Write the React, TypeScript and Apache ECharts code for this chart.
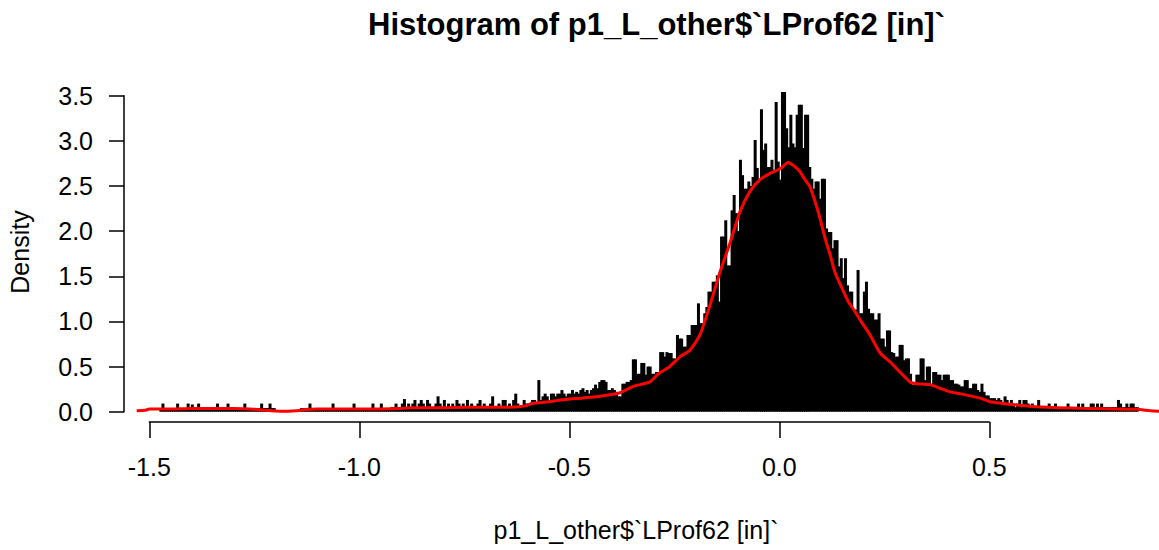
import React, { useEffect, useRef } from "react";
import * as echarts from "echarts";

// ---- data ----
const titleText = "Histogram of p1_L_other$`LProf62 [in]`";
const xLabel = "p1_L_other$`LProf62 [in]`";
const yLabel = "Density";

// histogram bins: start and width (in data units)
const binStart = -1.475;
const binWidth = 0.005;

// density of each bin (466 bins, -1.475 .. 0.855)
const binDensity: number[] = [
  0.04, 0.09, 0.04, 0.04, 0.04, 0.04, 0.04, 0.04, 0.09, 0.04,
  0.04, 0.04, 0.04, 0.09, 0.04, 0.08, 0.04, 0.04, 0.09, 0.04,
  0.04, 0.04, 0.04, 0.04, 0.04, 0.04, 0.04, 0.09, 0.04, 0.04,
  0.04, 0.04, 0.09, 0.04, 0.04, 0.04, 0.04, 0.04, 0.04, 0.04,
  0.09, 0.04, 0.04, 0.04, 0.04, 0.04, 0.04, 0.04, 0.09, 0.04,
  0.04, 0.04, 0.09, 0.04, 0.04, 0, 0, 0, 0, 0,
  0, 0, 0, 0, 0, 0, 0, 0.04, 0.04, 0.04,
  0.04, 0.09, 0.04, 0.04, 0.04, 0.04, 0.04, 0.04, 0.04, 0.04,
  0.04, 0.04, 0.09, 0.04, 0.04, 0.04, 0.04, 0.04, 0.04, 0.04,
  0.04, 0.04, 0.09, 0.04, 0.04, 0.04, 0.04, 0.04, 0.04, 0.04,
  0.04, 0.09, 0.04, 0.04, 0.04, 0.09, 0.04, 0.04, 0.04, 0.04,
  0.05, 0.05, 0.09, 0.05, 0.05, 0.09, 0.14, 0.05, 0.09, 0.05,
  0.09, 0.13, 0.05, 0.09, 0.13, 0.09, 0.05, 0.13, 0.09, 0.05,
  0.05, 0.09, 0.17, 0.09, 0.05, 0.13, 0.05, 0.09, 0.05, 0.09,
  0.05, 0.13, 0.09, 0.05, 0.09, 0.05, 0.13, 0.05, 0.09, 0.05,
  0.05, 0.09, 0.13, 0.05, 0.09, 0.05, 0.05, 0.09, 0.17, 0.05,
  0.05, 0.09, 0.05, 0.13, 0.13, 0.05, 0.09, 0.05, 0.13, 0.2,
  0.09, 0.05, 0.05, 0.13, 0.09, 0.09, 0.09, 0.13, 0.13, 0.09,
  0.35, 0.13, 0.17, 0.2, 0.17, 0.13, 0.2, 0.2, 0.17, 0.2,
  0.2, 0.24, 0.2, 0.17, 0.2, 0.2, 0.24, 0.2, 0.22, 0.2,
  0.24, 0.26, 0.22, 0.24, 0.2, 0.24, 0.26, 0.3, 0.26, 0.33,
  0.35, 0.35, 0.33, 0.24, 0.24, 0.26, 0.24, 0.22, 0.17, 0.17,
  0.31, 0.31, 0.33, 0.33, 0.35, 0.58, 0.58, 0.42, 0.42, 0.54,
  0.54, 0.41, 0.5, 0.5, 0.42, 0.42, 0.44, 0.44, 0.66, 0.66,
  0.61, 0.66, 0.65, 0.65, 0.59, 0.59, 0.85, 0.81, 0.81, 0.72,
  0.72, 0.85, 0.85, 0.96, 0.96, 0.96, 1.2, 0.98, 0.98, 1.09,
  1.16, 1.33, 1.33, 1.44, 1.44, 1.51, 1.22, 1.94, 1.94, 2.12,
  1.62, 1.62, 2.23, 2.4, 2.2, 2.0, 2.79, 2.62, 2.47, 2.47,
  2.55, 2.5, 2.6, 3.01, 2.7, 2.57, 3.35, 2.9, 2.97, 2.71,
  2.71, 2.79, 2.68, 3.43, 2.77, 2.57, 3.54, 3.54, 3.14, 2.93,
  3.29, 2.97, 2.93, 3.29, 3.4, 3.4, 2.92, 3.29, 3.29, 2.71,
  2.58, 2.47, 2.55, 2.55, 2.36, 2.58, 2.58, 2.03, 1.99, 1.99,
  1.81, 1.9, 1.9, 1.61, 1.7, 1.48, 1.7, 1.4, 1.33, 1.33,
  1.13, 1.13, 1.57, 1.09, 1.09, 1.33, 1.44, 1.14, 1.09, 1.09,
  1.02, 1.02, 1.09, 0.81, 0.81, 0.72, 0.9, 0.9, 0.66, 0.65,
  0.61, 0.61, 0.74, 0.74, 0.57, 0.59, 0.59, 0.42, 0.3, 0.3,
  0.41, 0.41, 0.59, 0.59, 0.35, 0.5, 0.5, 0.31, 0.44, 0.44,
  0.41, 0.41, 0.35, 0.41, 0.41, 0.41, 0.35, 0.35, 0.31, 0.31,
  0.3, 0.28, 0.28, 0.35, 0.35, 0.26, 0.26, 0.31, 0.31, 0.24,
  0.22, 0.31, 0.22, 0.18, 0.18, 0.15, 0.15, 0.15, 0.13, 0.15,
  0.13, 0.09, 0.17, 0.13, 0.09, 0.13, 0.09, 0.05, 0.09, 0.13,
  0.05, 0.13, 0.13, 0.09, 0.05, 0.09, 0.05, 0.05, 0.13, 0.05,
  0.05, 0.05, 0.05, 0.09, 0.05, 0.05, 0.09, 0.05, 0.05, 0.05,
  0.05, 0.05, 0.09, 0.05, 0.05, 0.05, 0.05, 0.09, 0.05, 0.09,
  0.05, 0.05, 0.05, 0.09, 0.09, 0.05, 0.09, 0.05, 0.09, 0.05,
  0.05, 0.05, 0.05, 0.05, 0.05, 0.05, 0.13, 0.09, 0.05, 0.05,
  0.09, 0.05, 0.09, 0.09, 0.05, 0.05,
];

// kernel density curve, [x, density]
const densityCurve: [number, number][] = [
  [-1.53, 0.01], [-1.51, 0.015], [-1.5, 0.03], [-1.45, 0.03], [-1.4, 0.035],
  [-1.35, 0.035], [-1.3, 0.035], [-1.26, 0.03], [-1.23, 0.02], [-1.21, 0.01],
  [-1.19, 0.005], [-1.17, 0.005], [-1.15, 0.01], [-1.13, 0.025], [-1.1, 0.03],
  [-1.05, 0.03], [-1.0, 0.03], [-0.95, 0.03], [-0.9, 0.035], [-0.88, 0.045],
  [-0.85, 0.045], [-0.8, 0.045], [-0.75, 0.05], [-0.7, 0.05], [-0.65, 0.05],
  [-0.62, 0.055], [-0.6, 0.07], [-0.59, 0.09], [-0.57, 0.1], [-0.55, 0.11],
  [-0.52, 0.13], [-0.5, 0.14], [-0.47, 0.15], [-0.45, 0.16], [-0.427, 0.17],
  [-0.4, 0.19], [-0.379, 0.21], [-0.348, 0.28], [-0.308, 0.33], [-0.288, 0.42],
  [-0.261, 0.5], [-0.236, 0.61], [-0.213, 0.68], [-0.189, 0.85], [-0.165, 1.18],
  [-0.141, 1.55], [-0.118, 1.86], [-0.094, 2.21], [-0.07, 2.44], [-0.046, 2.57],
  [-0.022, 2.64], [0.002, 2.69], [0.021, 2.76], [0.033, 2.73], [0.049, 2.66],
  [0.061, 2.57], [0.073, 2.49], [0.085, 2.33], [0.097, 2.14], [0.109, 1.92],
  [0.121, 1.74], [0.132, 1.55], [0.149, 1.37], [0.164, 1.22], [0.18, 1.11],
  [0.192, 1.02], [0.216, 0.85], [0.24, 0.65], [0.264, 0.55], [0.287, 0.44],
  [0.311, 0.33], [0.327, 0.31], [0.359, 0.3], [0.382, 0.26], [0.406, 0.22],
  [0.43, 0.2], [0.478, 0.15], [0.502, 0.11], [0.565, 0.074], [0.613, 0.055],
  [0.716, 0.037], [0.851, 0.026], [0.883, 0.011], [0.91, 0.005],
];

const xTickMin = -1.5;
const xTickMax = 0.5;
const xTickStep = 0.5;
const yTickMin = 0;
const yTickMax = 3.5;
const yTickStep = 0.5;

const FONT = '"Liberation Sans", Arial, Helvetica, sans-serif';

export default function App() {
  const ref = useRef<HTMLDivElement>(null);

  useEffect(() => {
    if (!ref.current) return;
    const chart = echarts.init(ref.current, undefined, { renderer: "svg" });

    const bars = binDensity.map((d, i) => [binStart + (i + 0.5) * binWidth, d]);

    const axisColor = "#000";
    const option: any = {
      animation: false,
      backgroundColor: "#ffffff",
      grid: [
        { left: 124, width: 1035, top: 86.66, height: 325.04 },
        { left: 149.3, width: 840, top: 421, height: 1 },
        { left: 124, width: 10, top: 95.7, height: 316 },
      ],
      xAxis: [
        { gridIndex: 0, type: "value", min: -1.5602, max: 0.904, show: false },
        {
          gridIndex: 1,
          type: "value",
          min: xTickMin,
          max: xTickMax,
          interval: xTickStep,
          position: "bottom",
          axisLine: { show: true, lineStyle: { color: axisColor, width: 1.5 } },
          axisTick: { show: true, length: 16, inside: false, lineStyle: { color: axisColor, width: 1.5 } },
          axisLabel: {
            margin: 32,
            fontSize: 25,
            color: "#000",
            fontFamily: FONT,
            formatter: (v: number) => v.toFixed(1),
          },
          splitLine: { show: false },
        },
        { gridIndex: 2, type: "value", show: false },
      ],
      yAxis: [
        { gridIndex: 0, type: "value", min: 0, max: 3.6, show: false },
        { gridIndex: 1, type: "value", show: false },
        {
          gridIndex: 2,
          type: "value",
          min: yTickMin,
          max: yTickMax,
          interval: yTickStep,
          position: "left",
          axisLine: { show: true, lineStyle: { color: axisColor, width: 1.5 } },
          axisTick: { show: true, length: 15, inside: false, lineStyle: { color: axisColor, width: 1.5 } },
          axisLabel: {
            margin: 31,
            fontSize: 25,
            color: "#000",
            fontFamily: FONT,
            formatter: (v: number) => v.toFixed(1),
          },
          splitLine: { show: false },
        },
      ],
      series: [
        {
          type: "bar",
          xAxisIndex: 0,
          yAxisIndex: 0,
          data: bars,
          barWidth: 3,
          itemStyle: { color: "#000" },
          silent: true,
          large: false,
        },
        {
          type: "line",
          xAxisIndex: 0,
          yAxisIndex: 0,
          data: densityCurve,
          showSymbol: false,
          smooth: 0.2,
          lineStyle: { color: "#ff0000", width: 3 },
          silent: true,
        },
      ],
      graphic: [
        {
          type: "text",
          x: 656.5,
          y: 24,
          style: {
            text: titleText,
            fontSize: 31,
            fontWeight: "bold",
            fontFamily: FONT,
            fill: "#000",
            align: "center",
            verticalAlign: "middle",
          },
        },
        {
          type: "text",
          x: 636,
          y: 530,
          style: {
            text: xLabel,
            fontSize: 25,
            fontFamily: FONT,
            fill: "#000",
            align: "center",
            verticalAlign: "middle",
          },
        },
        {
          type: "text",
          x: 20,
          y: 252,
          rotation: Math.PI / 2,
          style: {
            text: yLabel,
            fontSize: 25,
            fontFamily: FONT,
            fill: "#000",
            align: "center",
            verticalAlign: "middle",
          },
        },
      ],
    };

    chart.setOption(option);
    return () => chart.dispose();
  }, []);

  return (
    <div
      ref={ref}
      style={{ position: "fixed", left: 0, top: 0, width: 1159, height: 550, background: "#fff" }}
    />
  );
}
